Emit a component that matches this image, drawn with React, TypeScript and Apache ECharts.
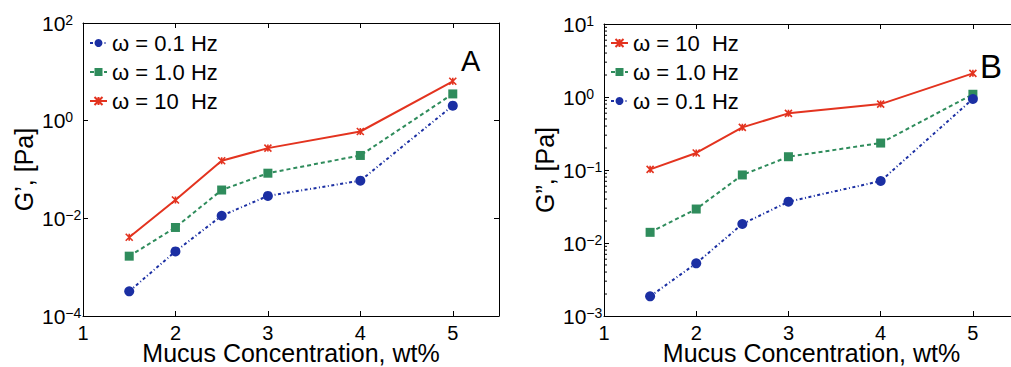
import React, { useEffect, useRef } from "react";
import * as echarts from "echarts";

const concentrations = [1.5, 2, 2.5, 3, 4, 5];

// Panel A: G' [Pa]
const gPrime01 = [3.2e-4, 2.1e-3, 0.0113, 0.0288, 0.059, 2.03];
const gPrime10 = [1.68e-3, 6.5e-3, 0.038, 0.084, 0.194, 3.53];
const gPrime100 = [4.1e-3, 0.0238, 0.151, 0.274, 0.6, 6.4];

// Panel B: G'' [Pa]
const gDouble01 = [1.86e-3, 5.26e-3, 0.0182, 0.0368, 0.0706, 0.94];
const gDouble10 = [0.014, 0.0292, 0.0855, 0.152, 0.234, 1.09];
const gDouble100 = [0.102, 0.171, 0.384, 0.597, 0.8, 2.11];

const xTicks = [1, 2, 3, 4, 5];
const minorTicksB = [
  2e-3, 3e-3, 4e-3, 5e-3, 6e-3, 7e-3, 8e-3, 9e-3,
  2e-2, 3e-2, 4e-2, 5e-2, 6e-2, 7e-2, 8e-2, 9e-2,
  2e-1, 3e-1, 4e-1, 5e-1, 6e-1, 7e-1, 8e-1, 9e-1,
  2, 3, 4, 5, 6, 7, 8, 9,
];

const NAME_01 = "ω = 0.1 Hz";
const NAME_10 = "ω = 1.0 Hz";
const NAME_100 = "ω = 10  Hz";

const BLUE = "#1b2fa3";
const GREEN = "#2f8c5c";
const RED = "#e3331f";
const FONT = "Liberation Sans, Arial, sans-serif";

const zip = (ys: number[]) => concentrations.map((x, i) => [x, ys[i]]);

const expFormatter = (v: number) => {
  const e = Math.round(Math.log10(v));
  const s = e < 0 ? "−" + Math.abs(e) : String(e);
  return `{b|10}{s|${s}}`;
};

const richLabel = {
  b: { fontSize: 21, lineHeight: 21, verticalAlign: "bottom", fontFamily: FONT, color: "#000" },
  s: { fontSize: 14, lineHeight: 14, verticalAlign: "top", padding: [0, 0, 12, 0], fontFamily: FONT, color: "#000" },
};

export default function App() {
  const ref = useRef<HTMLDivElement>(null);
  useEffect(() => {
    document.body.style.margin = "0";
    const chart = echarts.init(ref.current!, null, { renderer: "svg" });

    const axisLine = { show: true, onZero: false, lineStyle: { color: "#000", width: 1 } };
    const axisTick = { show: true, inside: true, length: 5, lineStyle: { color: "#000" } };

    const xAxisBase = (gridIndex: number) => ({
      gridIndex,
      type: "value",
      min: 1,
      max: 5.5,
      interval: 1,
      name: "Mucus Concentration, wt%",
      nameLocation: "middle",
      nameGap: 26,
      nameMoveOverlap: false,
      nameTextStyle: { fontSize: 25, lineHeight: 22, fontFamily: FONT, color: "#000" },
      axisLine,
      axisTick,
      axisLabel: {
        fontSize: 20,
        lineHeight: 15,
        fontFamily: FONT,
        color: "#000",
        margin: 9,
        formatter: (v: number) => (xTicks.includes(v) ? String(v) : ""),
      },
      splitLine: { show: false },
    });
    const xAxisTop = (gridIndex: number) => ({
      gridIndex,
      type: "value",
      position: "top",
      min: 1,
      max: 5.5,
      interval: 1,
      axisLine,
      axisTick,
      axisLabel: { show: false },
      splitLine: { show: false },
    });
    const yAxisBase = (gridIndex: number, min: number, max: number, interval: number, name: string) => ({
      gridIndex,
      type: "log",
      logBase: 10,
      min,
      max,
      interval,
      name,
      nameLocation: "middle",
      nameGap: 47,
      nameMoveOverlap: false,
      nameTextStyle: { fontSize: 25, fontFamily: FONT, color: "#000" },
      axisLine,
      axisTick,
      axisLabel: {
        formatter: expFormatter,
        rich: richLabel,
        align: "left",
        margin: 41,
      },
      splitLine: { show: false },
    });
    const yAxisRight = (gridIndex: number, min: number, max: number, interval: number) => ({
      gridIndex,
      type: "log",
      logBase: 10,
      position: "right",
      min,
      max,
      interval,
      axisLine,
      axisTick,
      axisLabel: { show: false },
      splitLine: { show: false },
    });

    const mkSeries = (name: string, data: number[], axisIdx: number) => {
      const common: any = {
        name,
        type: "line",
        xAxisIndex: axisIdx,
        yAxisIndex: axisIdx,
        data: zip(data),
        showAllSymbol: true,
        z: 3,
      };
      if (name === NAME_01) {
        return {
          ...common,
          symbol: "circle",
          symbolSize: 10,
          itemStyle: { color: BLUE },
          lineStyle: { color: BLUE, width: 2, type: [3, 2.5, 1, 2.5] },
        };
      }
      if (name === NAME_10) {
        return {
          ...common,
          symbol: "rect",
          symbolSize: 9,
          itemStyle: { color: GREEN },
          lineStyle: { color: GREEN, width: 2, type: [4, 3] },
        };
      }
      return {
        ...common,
        symbol: "path://M0,0L10,10M10,0L0,10M5,0L5,10",
        symbolSize: 7,
        itemStyle: { color: "none", borderColor: RED, borderWidth: 1.6 },
        lineStyle: { color: RED, width: 2, type: "solid" },
      };
    };

    const legendCommon = {
      orient: "vertical",
      itemWidth: 17,
      itemHeight: 10,
      itemGap: 7,
      textStyle: { fontSize: 22, fontFamily: FONT, color: "#000" },
      selectedMode: false,
      padding: 0,
    };

    chart.setOption({
      animation: false,
      backgroundColor: "#fff",
      grid: [
        { left: 83, top: 23, width: 416, height: 293, show: false, outerBoundsMode: "none", containLabel: false },
        { left: 604, top: 24, width: 415, height: 292, show: false, outerBoundsMode: "none", containLabel: false },
      ],
      xAxis: [xAxisBase(0), xAxisBase(1), xAxisTop(0), xAxisTop(1)],
      yAxis: [
        yAxisBase(0, 1e-4, 1e2, 2, "G’, [Pa]"),
        yAxisBase(1, 1e-3, 1e1, 1, "G”, [Pa]"),
        yAxisRight(0, 1e-4, 1e2, 2),
      ],
      legend: [
        { ...legendCommon, left: 89, top: 32, data: [NAME_01, NAME_10, NAME_100] },
        { ...legendCommon, left: 610, top: 32, data: [NAME_100, NAME_10, NAME_01] },
      ],
      graphic: [
        { type: "text", left: 461, top: 46, style: { text: "A", font: "29px " + FONT, fill: "#000" } },
        { type: "text", left: 980, top: 50, style: { text: "B", font: "33px " + FONT, fill: "#000" } },
      ],
      series: [
        mkSeries(NAME_01, gPrime01, 0),
        mkSeries(NAME_10, gPrime10, 0),
        mkSeries(NAME_100, gPrime100, 0),
        mkSeries(NAME_100, gDouble100, 1),
        mkSeries(NAME_10, gDouble10, 1),
        mkSeries(NAME_01, gDouble01, 1),
        {
          name: "minor-ticks",
          type: "custom",
          xAxisIndex: 1,
          yAxisIndex: 1,
          silent: true,
          data: minorTicksB.map((v) => [1, v]),
          renderItem: (params: any, api: any) => {
            const p = api.coord([api.value(0), api.value(1)]);
            return {
              type: "line",
              shape: { x1: p[0], y1: p[1], x2: p[0] + 3, y2: p[1] },
              style: { stroke: "#000", lineWidth: 1 },
            };
          },
        },
      ],
    });
    return () => chart.dispose();
  }, []);
  return <div ref={ref} style={{ width: 1011, height: 367 }} />;
}
